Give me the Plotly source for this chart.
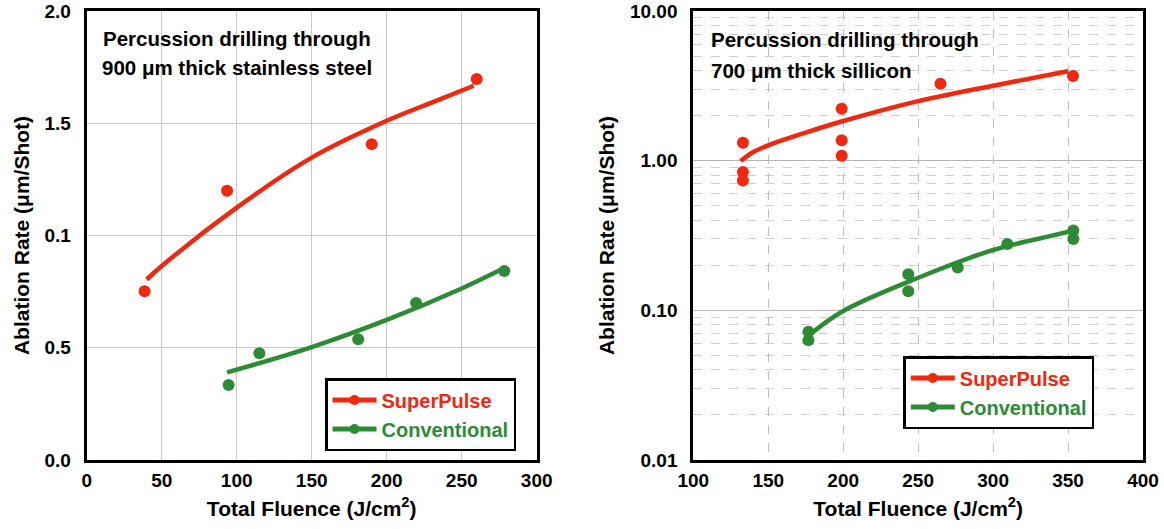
import plotly.graph_objects as go

# ---------------- data ----------------
# Left panel: 900 um stainless steel
ss_sp_x = [38.6, 93.6, 190, 260]
ss_sp_y = [0.752, 1.199, 1.407, 1.697]
ss_cv_x = [94.6, 115.1, 181, 219.6, 278.4]
ss_cv_y = [0.334, 0.476, 0.538, 0.699, 0.842]
ss_sp_fit_x = [40, 50, 100, 150, 200, 230, 258]
ss_sp_fit_y = [0.804, 0.864, 1.124, 1.347, 1.511, 1.592, 1.667]
ss_cv_fit_x = [93.6, 150, 200, 250, 279]
ss_cv_fit_y = [0.39, 0.503, 0.624, 0.764, 0.857]
ss_ytickvals = [0, 0.5, 1.0, 1.5, 2.0]
ss_yticktext = ["0.0", "0.5", "0.1", "1.5", "2.0"]
ss_xtickvals = [0, 50, 100, 150, 200, 250, 300]

# Right panel: 700 um silicon
si_sp_x = [133.1, 133.1, 133.1, 199, 199, 199, 264.9, 353.3]
si_sp_y = [1.318, 0.839, 0.736, 2.22, 1.37, 1.08, 3.27, 3.68]
si_cv_x = [176.8, 176.8, 243.4, 243.4, 276.4, 309.5, 353.5, 353.5]
si_cv_y = [0.0719, 0.0631, 0.174, 0.134, 0.193, 0.277, 0.341, 0.300]
si_sp_fit_x = [131.6, 140, 150, 175, 200, 250, 300, 350]
si_sp_fit_y = [0.993, 1.142, 1.265, 1.54, 1.84, 2.50, 3.17, 3.96]
si_cv_fit_x = [177.8, 200, 250, 300, 338, 351]
si_cv_fit_y = [0.069, 0.099, 0.165, 0.253, 0.313, 0.336]
si_ytickvals = [0.01, 0.1, 1, 10]
si_yticktext = ["0.01", "0.10", "1.00", "10.00"]
si_xtickvals = [100, 150, 200, 250, 300, 350, 400]

RED = "#F02810"
GREEN = "#2E8B35"
FONT = "Liberation Sans, Arial, Helvetica, sans-serif"

fig = go.Figure()

def add_series(xp, yp, xf, yf, color, name, xa, ya, legend):
    fig.add_trace(go.Scatter(x=xf, y=yf, mode="lines", line=dict(color=color, width=4.5, shape="spline"),
                             xaxis=xa, yaxis=ya, showlegend=False, hoverinfo="skip"))
    fig.add_trace(go.Scatter(x=xp, y=yp, mode="markers", marker=dict(color=color, size=12),
                             xaxis=xa, yaxis=ya, showlegend=False))
    fig.add_trace(go.Scatter(x=[None], y=[None], mode="lines+markers",
                             line=dict(color=color, width=5), marker=dict(color=color, size=10),
                             name=f'<span style="color:{color}">{name}</span>',
                             xaxis=xa, yaxis=ya, legend=legend))

add_series(ss_sp_x, ss_sp_y, ss_sp_fit_x, ss_sp_fit_y, RED, "SuperPulse", "x", "y", "legend")
add_series(ss_cv_x, ss_cv_y, ss_cv_fit_x, ss_cv_fit_y, GREEN, "Conventional", "x", "y", "legend")
add_series(si_sp_x, si_sp_y, si_sp_fit_x, si_sp_fit_y, RED, "SuperPulse", "x2", "y2", "legend2")
add_series(si_cv_x, si_cv_y, si_cv_fit_x, si_cv_fit_y, GREEN, "Conventional", "x2", "y2", "legend2")

TICKFONT = dict(size=19, color="black", family=FONT, weight="bold")
TITLEFONT = dict(size=21, color="black", family=FONT, weight="bold")
common = dict(showline=True, linecolor="black", linewidth=3, mirror=True,
              ticks="outside", tickcolor="rgba(0,0,0,0)", zeroline=False,
              tickfont=TICKFONT, automargin=False, ticklabeloverflow="allow")
xcommon = dict(ticklen=1, **common)
ycommon = dict(ticklen=9, **common)

# plot area pixels: left 86.7-536.7, right 693.3-1143, top 11, bottom 460
LD = [86.7 / 1164, 536.7 / 1164]
RD = [693.3 / 1164, 1143 / 1164]
T, B = 11, 69
H = 529 - T - B

def py(p):
    return (529 - B - p) / H

XT = "Total Fluence (J/cm<sup>2</sup>)"
YT = "Ablation Rate (μm/Shot)"

fig.update_layout(
    width=1164, height=529,
    margin=dict(l=0, r=0, t=T, b=B),
    paper_bgcolor="white", plot_bgcolor="white",
    font=dict(family=FONT, weight="bold", color="black"),
    xaxis=dict(domain=LD, range=[0, 300], tickvals=ss_xtickvals,
               showgrid=True, gridcolor="#c8c8c8", gridwidth=1,
               title=dict(text=XT, standoff=12, font=TITLEFONT), anchor="y", **xcommon),
    yaxis=dict(domain=[0, 1], range=[0, 2], tickvals=ss_ytickvals, ticktext=ss_yticktext,
               showgrid=True, gridcolor="#c8c8c8", gridwidth=1,
               title=dict(text=YT, standoff=10, font=TITLEFONT), anchor="x", **ycommon),
    xaxis2=dict(domain=RD, range=[100, 400], tickvals=si_xtickvals,
                showgrid=True, gridcolor="#bdbdbd", gridwidth=1, griddash="dash",
                title=dict(text=XT, standoff=12, font=TITLEFONT), anchor="y2", **xcommon),
    yaxis2=dict(domain=[0, 1], type="log", range=[-2, 1], tickvals=si_ytickvals, ticktext=si_yticktext,
                showgrid=True, gridcolor="#b4b4b4", gridwidth=1,
                minor=dict(showgrid=True, gridcolor="#cfcfcf", griddash="dash", gridwidth=1,
                           tickvals=[a * b for b in (0.01, 0.1, 1) for a in range(2, 10)], ticks=""),
                title=dict(text=YT, standoff=10, font=TITLEFONT), anchor="x2", **ycommon),
    legend=dict(x=325 / 1164, y=py(378), xanchor="left", yanchor="top",
                bgcolor="white", bordercolor="black", borderwidth=2.5,
                font=dict(size=20, family=FONT, weight="bold"), itemwidth=44, tracegroupgap=0),
    legend2=dict(x=903.3 / 1164, y=py(356), xanchor="left", yanchor="top",
                 bgcolor="white", bordercolor="black", borderwidth=2.5,
                 font=dict(size=20, family=FONT, weight="bold"), itemwidth=44, tracegroupgap=0),
)

ANN_FONT = dict(size=20.5, family=FONT, weight="bold", color="black")
ann = [
    ("Percussion drilling through", 236.5, 38, "center"),
    ("900 μm thick stainless steel", 236.5, 68, "center"),
    ("Percussion drilling through", 709.3, 39.5, "left"),
    ("700 μm thick sillicon", 709.3, 70, "left"),
]
for text, xp, yp, anc in ann:
    fig.add_annotation(text=text, xref="paper", yref="paper", x=xp / 1164, y=py(yp),
                       xanchor=anc, yanchor="middle", showarrow=False, font=ANN_FONT)

fig.write_html("out.html", config={"displayModeBar": False},
               post_script="document.body.style.margin='0';document.body.style.overflow='hidden';")
